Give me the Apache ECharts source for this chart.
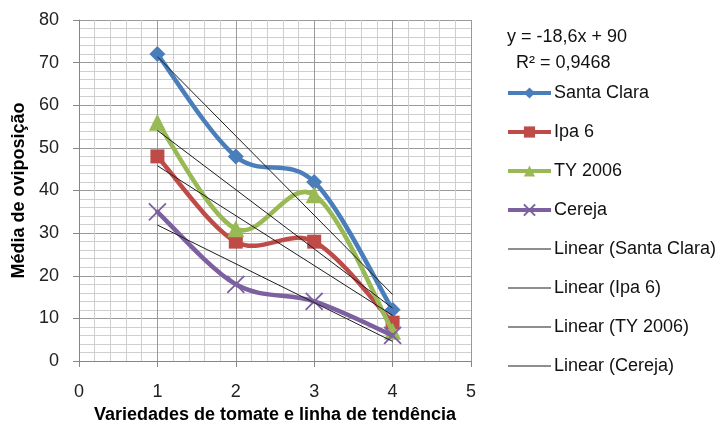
<!DOCTYPE html>
<html>
<head>
<meta charset="utf-8">
<script src="https://cdn.jsdelivr.net/npm/echarts@6/dist/echarts.min.js"></script>
<style>html,body{margin:0;padding:0;background:#fff}#c{width:723px;height:430px}</style>
</head>
<body>
<div id="c"></div>
<script>
var categories = [1, 2, 3, 4];
var seriesNames = ['Santa Clara', 'Ipa 6', 'TY 2006', 'Cereja'];
var santaClara = [72, 48, 42, 12];
var ipa6 = [48, 28, 28, 9];
var ty2006 = [56, 31, 39, 7];
var cereja = [35, 18, 14, 6];
var xTicks = [0, 1, 2, 3, 4, 5];
var yTicks = [0, 10, 20, 30, 40, 50, 60, 70, 80];

var allValues = [santaClara, ipa6, ty2006, cereja];
var colors = ['#4A7EBB', '#BE4B48', '#98B954', '#7D60A0'];
var symbols = ['diamond', 'rect', 'triangle', 'path://M0,0 L10,10 M10,0 L0,10'];
var symbolSizes = [16, 14, 17, 17];
var FONT = 'Liberation Sans';
var FS = 18;

function regress(xs, ys) {
  var n = xs.length, mx = 0, my = 0;
  for (var i = 0; i < n; i++) { mx += xs[i]; my += ys[i]; }
  mx /= n; my /= n;
  var sxy = 0, sxx = 0, syy = 0;
  for (var i = 0; i < n; i++) { sxy += (xs[i]-mx)*(ys[i]-my); sxx += (xs[i]-mx)*(xs[i]-mx); syy += (ys[i]-my)*(ys[i]-my); }
  var b = sxy / sxx, a = my - b * mx;
  var ssr = 0;
  for (var i = 0; i < n; i++) { var r = ys[i] - (a + b * xs[i]); ssr += r * r; }
  return {slope: b, intercept: a, r2: 1 - ssr / syy};
}

// Excel-like smoothed curve (Catmull-Rom Bezier) through the data points, in pixel space via api.coord
function makeCurveRenderer(vals, color) {
  return function (params, api) {
    if (params.dataIndex !== 0) return null;
    var pts = categories.map(function (c, i) { return api.coord([c, vals[i]]); });
    var n = pts.length;
    var d = 'M' + pts[0][0] + ' ' + pts[0][1];
    for (var i = 0; i < n - 1; i++) {
      var p0 = pts[Math.max(i - 1, 0)], p1 = pts[i], p2 = pts[i + 1], p3 = pts[Math.min(i + 2, n - 1)];
      var c1x = p1[0] + (p2[0] - p0[0]) / 6, c1y = p1[1] + (p2[1] - p0[1]) / 6;
      var c2x = p2[0] - (p3[0] - p1[0]) / 6, c2y = p2[1] - (p3[1] - p1[1]) / 6;
      d += ' C' + c1x + ' ' + c1y + ' ' + c2x + ' ' + c2y + ' ' + p2[0] + ' ' + p2[1];
    }
    return {
      type: 'path',
      shape: {pathData: d},
      style: {fill: 'none', stroke: color, lineWidth: 4.5, lineJoin: 'round', lineCap: 'round'}
    };
  };
}

var series = [];
var legendData = [];
allValues.forEach(function (vals, k) {
  var pairs = categories.map(function (c, i) { return [c, vals[i]]; });
  series.push({
    name: '_curve' + k,
    type: 'custom',
    coordinateSystem: 'cartesian2d',
    data: pairs,
    encode: {x: 0, y: 1},
    renderItem: makeCurveRenderer(vals, colors[k]),
    z: 2 + 2 * k,
    silent: true
  });
  var isCross = k === 3;
  series.push({
    name: seriesNames[k],
    type: 'line',
    data: pairs,
    symbol: symbols[k],
    symbolSize: symbolSizes[k],
    lineStyle: {color: colors[k], width: 4.5, opacity: 0},
    itemStyle: isCross ? {color: 'none', borderColor: colors[k], borderWidth: 1.8} : {color: colors[k], borderWidth: 0},
    z: 3 + 2 * k
  });
  legendData.push({name: seriesNames[k], lineStyle: {width: 4, opacity: 1}});
});
var fits = allValues.map(function (vals) { return regress(categories, vals); });
allValues.forEach(function (vals, k) {
  var f = fits[k];
  var x0 = categories[0], x1 = categories[categories.length - 1];
  var nm = 'Linear (' + seriesNames[k] + ')';
  series.push({
    name: nm,
    type: 'line',
    data: [[x0, f.intercept + f.slope * x0], [x1, f.intercept + f.slope * x1]],
    symbol: 'none',
    lineStyle: {color: '#1e1e1e', width: 1},
    itemStyle: {color: '#1e1e1e'},
    z: 20
  });
  legendData.push({name: nm, itemStyle: {opacity: 0}, lineStyle: {width: 1.2, opacity: 1, color: '#1e1e1e'}});
});

function fmt(v, d) { return v.toFixed(d).replace('.', ','); }
var eq1 = 'y = ' + fmt(fits[0].slope, 1) + 'x + ' + Math.round(fits[0].intercept);
var eq2 = 'R\u00B2 = ' + fmt(fits[0].r2, 4);

var chart = echarts.init(document.getElementById('c'), null, {renderer: 'canvas'});
chart.setOption({
  animation: false,
  backgroundColor: '#fff',
  grid: {left: 79, right: 252, top: 20, bottom: 69, containLabel: false},
  xAxis: {
    type: 'value', min: xTicks[0], max: xTicks[xTicks.length - 1], interval: 1,
    name: 'Variedades de tomate e linha de tendência', nameLocation: 'middle', nameGap: 45,
    nameTextStyle: {fontFamily: FONT, fontSize: FS, fontWeight: 'bold', color: '#000'},
    axisLine: {show: true, lineStyle: {color: '#868686', width: 1}},
    axisTick: {show: true, length: 6, lineStyle: {color: '#868686'}},
    axisLabel: {fontFamily: FONT, fontSize: FS, color: '#222', margin: 22},
    splitLine: {show: true, lineStyle: {color: '#9a9a9a', width: 1}},
    minorTick: {show: false, splitNumber: 5},
    minorSplitLine: {show: true, lineStyle: {color: '#cfcfcf', width: 1}}
  },
  yAxis: {
    type: 'value', min: yTicks[0], max: yTicks[yTicks.length - 1], interval: 10,
    name: 'Média de oviposição', nameLocation: 'middle', nameGap: 48, nameRotate: 90,
    nameTextStyle: {fontFamily: FONT, fontSize: FS, fontWeight: 'bold', color: '#000'},
    axisLine: {show: true, lineStyle: {color: '#868686', width: 1}},
    axisTick: {show: true, length: 6, lineStyle: {color: '#868686'}},
    axisLabel: {fontFamily: FONT, fontSize: FS, color: '#222', margin: 20},
    splitLine: {show: true, lineStyle: {color: '#9a9a9a', width: 1}},
    minorTick: {show: false, splitNumber: 5},
    minorSplitLine: {show: true, lineStyle: {color: '#cfcfcf', width: 1}}
  },
  legend: {
    orient: 'vertical', left: 501, top: 78,
    itemWidth: 43, itemHeight: 14, itemGap: 19,
    textStyle: {fontFamily: FONT, fontSize: FS, color: '#111', lineHeight: 20, padding: [0, 0, 0, -2]},
    data: legendData
  },
  graphic: [
    {type: 'text', left: 507, top: 28, style: {text: eq1, font: FS + 'px "' + FONT + '"', fill: '#111'}},
    {type: 'text', left: 516, top: 54, style: {text: eq2, font: FS + 'px "' + FONT + '"', fill: '#111'}}
  ],
  series: series
});
</script>
</body>
</html>
